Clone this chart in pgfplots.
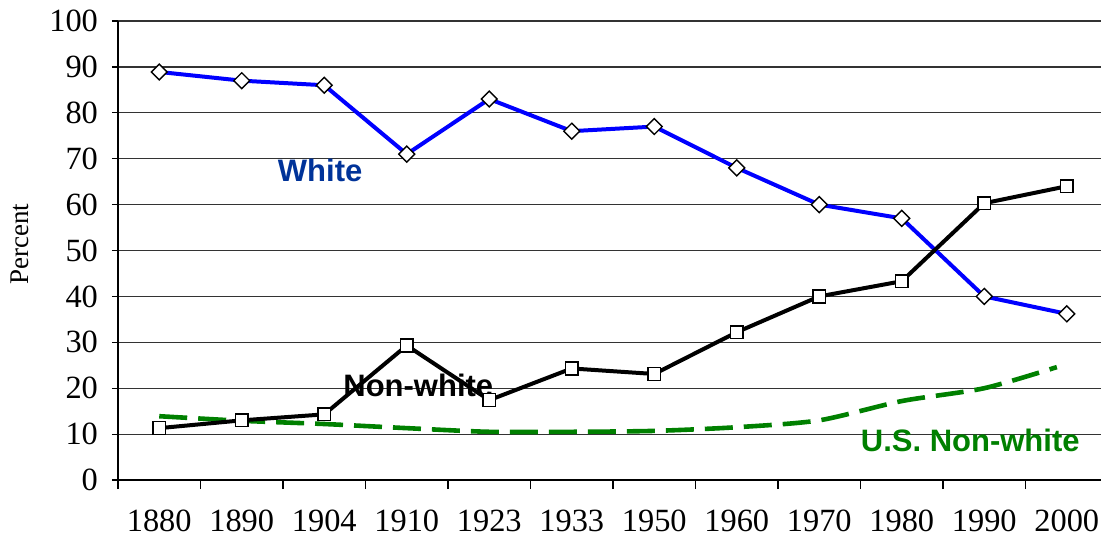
\documentclass[border=0pt]{standalone}
\usepackage{fontspec}
\setmainfont{Liberation Serif}
\newfontfamily\arialb{Liberation Sans}
\usepackage{pgfplots}
\pgfplotsset{compat=1.18}
\definecolor{wblue}{RGB}{0,51,153}
\definecolor{ugreen}{RGB}{0,128,0}
\begin{document}
\begin{tikzpicture}
\begin{axis}[
  at={(0,0)}, anchor=south west,
  scale only axis,
  width=495pt, height=229.5pt,
  xmin=-0.5, xmax=11.5, ymin=0, ymax=100,
  axis x line*=bottom, axis y line*=left,
  axis line style={black, line width=0.6pt},
  clip=false,
  xtick={0,...,11},
  xticklabels={1880,1890,1904,1910,1923,1933,1950,1960,1970,1980,1990,2000},
  minor xtick={-0.5,0.5,...,10.5},
  major x tick style={draw=none},
  minor tick length=4.5pt,
  tick align=outside,
  ytick={0,10,...,100},
  major tick length=3pt,
  tick style={black, line width=0.6pt},
  ymajorgrids,
  grid style={black!80, line width=0.6pt},
  tick label style={font=\fontsize{16.2pt}{17pt}\selectfont},
  /pgf/number format/assume math mode=true,
  xticklabel style={yshift=-8.5pt},
  yticklabel style={xshift=-3.5pt},
  ylabel={Percent},
  ylabel style={font=\fontsize{13.5pt}{13.5pt}\selectfont, at={(axis description cs:-0.099,0.514)}, anchor=center},
]
\addplot[ugreen, line width=2.3pt, dash pattern=on 14pt off 5.5pt, smooth, tension=0.45] coordinates {
(0,13.9) (1,12.9) (2,12.2) (3,11.3) (4,10.5) (5,10.5) (6,10.7) (7,11.5) (8,13) (9,17.2) (10,20) (10.88,24.6)
};
\addplot[blue, line width=2pt, mark=square*, mark size=2.8pt,
  mark options={rotate=45, fill=white, draw=black, line width=0.7pt, solid}] coordinates {
(0,88.9) (1,87) (2,86) (3,71) (4,83) (5,76) (6,77) (7,68) (8,60) (9,57) (10,40) (11,36.2)
};
\addplot[black, line width=2pt, mark=square*, mark size=3.2pt,
  mark options={fill=white, draw=black, line width=0.7pt, solid}] coordinates {
(0,11.3) (1,13) (2,14.3) (3,29.3) (4,17.4) (5,24.3) (6,23.1) (7,32.2) (8,40) (9,43.3) (10,60.3) (11,64)
};
\node[font=\arialb\bfseries\fontsize{15.5pt}{15.5pt}\selectfont, text=wblue] at (axis cs:1.95,67.5) {White};
\node[font=\arialb\bfseries\fontsize{15.5pt}{15.5pt}\selectfont, text=black] at (axis cs:3.14,20.7) {Non-white};
\node[font=\arialb\bfseries\fontsize{15.5pt}{15.5pt}\selectfont, text=ugreen] at (axis cs:9.83,8.6) {U.S. Non-white};
\end{axis}
\pgfresetboundingbox
\path[use as bounding box] (-59pt,-31pt) rectangle (491.5pt,240pt);
\end{tikzpicture}
\end{document}
